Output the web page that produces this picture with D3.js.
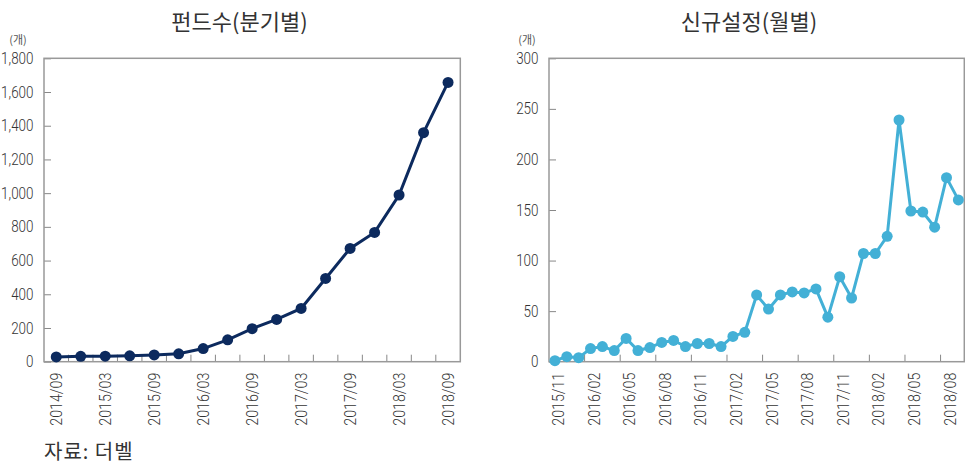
<!DOCTYPE html>
<html>
<head>
<meta charset="utf-8">
<script src="https://cdn.jsdelivr.net/npm/d3@7"></script>
<style>
  body { margin: 0; background: #fff; }
  svg text { font-family: "Roboto", sans-serif; font-weight: 300; fill: #333; }
  .kr { font-family: "Noto Sans CJK KR", sans-serif; font-weight: 400; }
</style>
</head>
<body>
<svg id="chart" width="965" height="465"></svg>
<script>
// quarterly fund count
const quarters = ["2014/09","2014/12","2015/03","2015/06","2015/09","2015/12","2016/03","2016/06","2016/09",
                  "2016/12","2017/03","2017/06","2017/09","2017/12","2018/03","2018/06","2018/09"];
const fundCounts = [28, 32, 33, 35, 40, 47, 78, 130, 196, 251, 316, 494, 672, 767, 989, 1359, 1657];
const quarterLabels = ["2014/09","2015/03","2015/09","2016/03","2016/09","2017/03","2017/09","2018/03","2018/09"];
const countTicks = [0, 200, 400, 600, 800, 1000, 1200, 1400, 1600, 1800];

// monthly new funds
const months = ["2015/11","2015/12","2016/01","2016/02","2016/03","2016/04","2016/05","2016/06","2016/07",
                "2016/08","2016/09","2016/10","2016/11","2016/12","2017/01","2017/02","2017/03","2017/04",
                "2017/05","2017/06","2017/07","2017/08","2017/09","2017/10","2017/11","2017/12","2018/01",
                "2018/02","2018/03","2018/04","2018/05","2018/06","2018/07","2018/08","2018/09"];
const newFunds = [1, 5, 4, 13, 15, 11, 23, 11, 14, 19, 21, 15, 18, 18, 15, 25, 29, 66,
                  52, 66, 69, 68, 72, 44, 84, 63, 107, 107, 124, 239, 149, 148, 133, 182, 160];
const monthLabels = ["2015/11","2016/02","2016/05","2016/08","2016/11","2017/02","2017/05","2017/08","2017/11","2018/02","2018/05","2018/08"];
const newTicks = [0, 50, 100, 150, 200, 250, 300];

const svg = d3.select("#chart");

function drawChart(opt) {
    const x = d3.scaleBand().domain(opt.cats).range([opt.left, opt.right]).padding(0);
    const y = d3.scaleLinear().domain([0, opt.max]).range([361.7, 58.3]);
    const g = svg.append("g");

    // y axis, ticks pointing inward; labels squeezed a bit to mimic the narrow font
    const yAxis = g.append("g")
        .attr("transform", "translate(" + opt.left + ",0)")
        .call(d3.axisLeft(y).tickValues(opt.yTicks).tickFormat(d3.format(",")).tickSizeInner(-7).tickSizeOuter(0).tickPadding(0));
    yAxis.select(".domain").remove();
    yAxis.selectAll("line").attr("stroke", "#888");
    yAxis.selectAll("text")
        .attr("x", -10.5 / 0.84)
        .attr("transform", "scale(0.84,1)")
        .style("font-size", "16px");

    // x axis labels
    const xAxis = g.append("g")
        .attr("transform", "translate(0,361.7)")
        .call(d3.axisBottom(x).tickValues(opt.labels).tickSize(0));
    xAxis.select(".domain").remove();
    xAxis.selectAll("text")
        .attr("transform", "rotate(-90) scale(0.89,1)")
        .attr("text-anchor", "end")
        .attr("x", -11 / 0.89)
        .attr("y", opt.labelShift)
        .attr("dy", "0.35em")
        .style("font-size", "16px");

    // x tick marks at category boundaries
    g.selectAll(".xtick")
        .data(opt.tickCats)
        .join("line")
        .attr("x1", d => x(d)).attr("x2", d => x(d))
        .attr("y1", 361.7).attr("y2", 354.7)
        .attr("stroke", "#888");

    // frame
    g.append("rect")
        .attr("x", opt.left).attr("y", 58.3)
        .attr("width", opt.right - opt.left).attr("height", 361.7 - 58.3)
        .attr("fill", "none").attr("stroke", "#999").attr("stroke-width", 1.5);

    const line = d3.line()
        .x((d, i) => x(opt.cats[i]) + x.bandwidth() / 2)
        .y(d => y(d));
    g.append("path")
        .datum(opt.values)
        .attr("d", line)
        .attr("fill", "none")
        .attr("stroke", opt.color)
        .attr("stroke-width", 3);
    g.selectAll(".dot")
        .data(opt.values)
        .join("circle")
        .attr("cx", (d, i) => x(opt.cats[i]) + x.bandwidth() / 2)
        .attr("cy", d => y(d))
        .attr("r", 5.5)
        .attr("fill", opt.color);

    g.append("text").attr("class", "kr")
        .attr("x", opt.titleX).attr("y", 30)
        .attr("text-anchor", "middle")
        .style("font-size", "22px")
        .text(opt.title);
    g.append("text").attr("class", "kr")
        .attr("x", opt.unitX).attr("y", 44)
        .attr("text-anchor", "middle")
        .style("font-size", "11px").style("fill", "#555")
        .text("(개)");
}

drawChart({
    cats: quarters, values: fundCounts, labels: quarterLabels,
    tickCats: quarters.slice(1), yTicks: countTicks, max: 1800,
    left: 44, right: 460.3, color: "#0c2a5e", labelShift: 0,
    title: "펀드수(분기별)", titleX: 239.5, unitX: 18
});

drawChart({
    cats: months, values: newFunds, labels: monthLabels,
    tickCats: monthLabels.slice(1), yTicks: newTicks, max: 300,
    left: 549, right: 964.3, color: "#43b0d6", labelShift: 3.5,
    title: "신규설정(월별)", titleX: 749, unitX: 527
});

svg.append("text").attr("class", "kr")
    .attr("x", 44).attr("y", 459)
    .style("font-size", "20px").style("letter-spacing", "1px")
    .text("자료: 더벨");
</script>
</body>
</html>
